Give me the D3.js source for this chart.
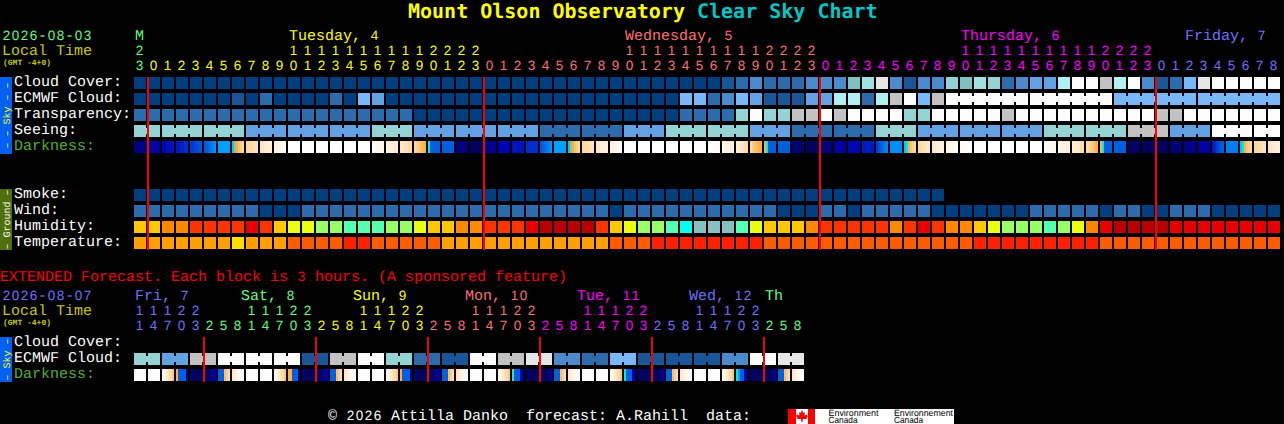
<!DOCTYPE html>
<html>
<head>
<meta charset="utf-8">
<style>
html,body{margin:0;padding:0;background:#000;overflow:hidden}
svg{display:block}
text{font-family:"Liberation Mono",monospace;font-size:15px;white-space:pre;text-rendering:geometricPrecision}
.dg{font-family:"Liberation Sans",sans-serif;font-size:13.5px}
</style>
<script src="https://cdn.jsdelivr.net/npm/d3@7/dist/d3.min.js"></script>
</head>
<body>
<svg id="c" width="1284" height="424"></svg>
<script>
// ---------- labels ----------
const titleLeft = "Mount Olson Observatory ";
const titleRight = "Clear Sky Chart";
const hourDigits = "3012345678901234567890123012345678901234567890123012345678901234567890123012345678".split("");
const hourTens   = "2          11111111112222          11111111112222          11111111112222         ".split("");
const hourDay    = [0].concat(d3.range(24).map(()=>1), d3.range(24).map(()=>2), d3.range(24).map(()=>3), d3.range(9).map(()=>4));
const dayColors  = ["#60ff80","#ffff00","#ff7070","#ff00ff","#7070ff"];
const dayLabels  = [["M",0,0],["Tuesday, 4",11,1],["Wednesday, 5",35,2],["Thursday, 6",59,3],["Friday, 7",75,4]];

const extDigits = "147032581470325814703258147032581470325814703258".split("");
const extTens   = "11122   11122   11122   11122   11122   11122    ".split("");
const extDayIdx = [0,0,0,0,0, 1,1,1,1,1,1,1,1, 2,2,2,2,2,2,2,2, 3,3,3,3,3,3,3,3, 4,4,4,4,4,4,4,4, 5,5,5,5,5,5,5,5, 6,6,6];
const extColors = ["#7070ff","#60ff80","#ffff00","#ff7070","#ff00ff","#7070ff","#60ff80"];
const extDayLabels = [["Fri, 7",0,0],["Sat, 8",7.57,1],["Sun, 9",15.57,2],["Mon, 10",23.57,3],["Tue, 11",31.57,4],["Wed, 12",39.57,5],["Th",45,6]];

const skyRows = ["Cloud Cover:","ECMWF Cloud:","Transparency:","Seeing:","Darkness:"];
const groundRows = ["Smoke:","Wind:","Humidity:","Temperature:"];
const extRows = ["Cloud Cover:","ECMWF Cloud:","Darkness:"];
const midnightCols = [1,25,49,73];
const extMidnightCols = [5,13,21,29,37,45];

// ---------- series (level per block) ----------
const cloudCover = [0,0,0,0,0,0,0,0,0,0,0,0,0,0,0,0,0,0,0,0,0,0,0,0,0,0,0,0,0,0,0,0,0,0,0,0,0,0,0,0,0,0,
  1,2,3,2,2,2,3,3,3,6,8,11,3,1,3,3,7,6,8,7,2,3,4,4,9,12,12,10,9,12,3,1,2,5,11,12,12,12,12,12];
const ecmwfCloud = [0,0,0,0,0,0,0,1,0,2,0,0,0,0,2,0,5,4,0,0,0,0,0,0,0,0,0,0,0,0,0,0,0,0,0,0,0,0,0,
  5,5,2,3,5,4,1,1,1,4,4,9,9,2,9,10,12,5,10,
  12,12,12,12,12,12,12,12,12,12,12,12,5,5,5,5,5,5,5,5,5,5,5,5];
const transparency = [2,2,2,2,2,2,2,2,2,2,2,2,2,2,2,2,2,2,2,2,0,0,0,0,0,0,0,0,0,0,0,0,0,0,0,0,0,0,0,
  2,2,2,2,7,12,7,7,10,10,12,10,12,12,12,12,7,7,12,12,12,12,12,10,
  12,12,12,12,12,12,12,12,12,12,10,10,12,12,12,12,12,12,12];
const seeing = [7,7, 7,7,7, 7,7,7, 4,4,4, 4,4,4, 4,4,4, 7,7,7, 4,4,4, 4,4,4, 4,4,4, 2,2,2, 2,2,2, 4,4,4, 7,7,7, 7,7,7,
  4,4,4, 2,2,2, 2,2,2, 7,7,7, 4,4,4, 4,4,4, 4,4,4, 7,7,7, 7,7,7, 10,10,10, 4,4,4, 12,12,12, 12,12];
const seeingGroups = [0,0, 1,1,1, 2,2,2, 3,3,3, 4,4,4, 5,5,5, 6,6,6, 7,7,7, 8,8,8, 9,9,9, 10,10,10, 11,11,11, 12,12,12, 13,13,13, 14,14,14,
  15,15,15, 16,16,16, 17,17,17, 18,18,18, 19,19,19, 20,20,20, 21,21,21, 22,22,22, 23,23,23, 24,24,24, 25,25,25, 26,26,26, 27,27];
const ecmwfGroups = [-1,-2,-3,-4,-5,-6,-7,-8,-9,-10,-11,-12,-13,-14,-15,-16,-17,-18,-19,-20,-21,-22,-23,-24,-25,-26,-27,-28,-29,-30,-31,-32,-33,-34,-35,-36,-37,-38,-39,-40,-41,-42,-43,-44,-45,-46,-47,-48,-49,-50,-51,-52,-53,-54,-55,-56,-57,-58,
  1,1,1,1,1,1, 2,2,2,2,2,2, 3,3,3,3,3,3, 4,4,4,4,4,4];
const darkness = [
  [.9,1,1.2],[1.5,1.7,2],[2.2,2.4,2.6],[2.8,3,3.2],[3.4,3.6,3.8],[3.9,4,4.2,4.4,4.6,4.8],5,[5.6,6.6,7,7.4,7.7,8],
  [8,8.2,8.5],[8.6,8.9,9.1],[9.2,9.5,9.8],10,10,10,10,10,10,[9.8,9.6,9.4],[9.2,9,8.8],[8.7,8.4,8.1],[8,7.8,7.6,7.4,7.2,7],
  [6,4,4,4,4,4],4,[1,.9,.8],.4,
  1.3,2,2.6,3.2,[3.8,4,4.2,4.4,4.6,4.8],5,[5.5,6.5,7,7.4,7.7,8],[8,8.2,8.5],[8.6,9,9.2],[9.2,9.5,9.8],10,10,10,10,10,10,
  [9.9,9.8,9.6],[9.4,9.2,9],[8.9,8.6,8.2],[8,7.7,7.5,7.3,7.1,7],[7,6,4,4,4,4],4,[.9,.7,.5],.3,
  .9,1.6,2.2,2.8,[3.4,3.7,4,4.2,4.4,4.6],4.7,[5.5,6,7,7.5,7.8,8],[8.1,8.4,8.7],[8.8,9,9.2],[9.3,9.5,9.7],[9.7,9.9,10],10,10,10,10,10,
  [9.9,9.7,9.5],[9.4,9.2,9],[8.9,8.7,8.3],[8.2,8,7.8,7.6,7.3,7],[7,6,4,4,4,4],4,.4,.3,
  .4,.7,1.2,1.7,[2.8,3.1,3.4,3.7,3.9,4],4.5,[5.5,6,7,7.5,7.8,8],[8,8.2,8.5],[8.6,8.9,9.1]];

const smoke = [0,0,0,0,0,0,0,0,0,0,0,0,0,0,0,0,0,0,0,0,0,0,0,0,0,0,0,0,0,0,0,0,0,0,0,0,0,0,0,0,0,0,0,0,0,0,0,0,0,0,0,0,0,0,0,0,0,0];
const wind = [2,2,2,2,2,2,2,2,2,0,0,0,2,2,2,2,2,2,2,2,2,2,2,2,2,2,2,2,2,2,2,2,2,2,0,2,2,2,2,2,2,2,2,2,2,2,0,0,0,2,2,0,
  2,2,2,2,2,0,0,0,0,0,0,0,2,2,2,2,2,0,2,2,0,0,2,2,2,0,0,0,0,0];
const humidity = [4,4,3,3,2,2,2,2,1,2,4,5,5,6,6,7,7,7,6,6,5,4,4,3,3,2,2,2,1,0,0,0,0,2,4,5,6,6,7,8,9,9,9,7,5,4,4,4,3,2,2,2,
  2,2,3,2,1,2,3,3,4,5,6,6,6,7,6,5,3,1,0,0,0,0,1,1,1,1,1,1,1,1];
const temperature = [1,1,1,1,1,1,1,0,1,1,1,2,2,2,2,3,3,2,2,2,2,2,1,1,1,1,1,1,1,1,1,1,1,1,2,2,2,3,3,3,3,3,3,3,3,2,2,2,2,2,2,2,
  2,2,2,2,2,2,2,2,3,3,3,3,3,3,3,3,3,2,2,2,2,2,2,2,2,2,2,2,2,2];

const extEcmwf = [7,4,10,12,12,12,1,10,12,7,2,1,12,10,11,3,2,5,1,1,1,3,12,11];
const extDarkness = [
  10,10,[9.6,9.2,8.8,8.4,8,7.6],[7,4,4,4,4,1],.4,[.4,.4,.4,1,1.6,2],[4,4,4,7.3,7.8,8.2],[8.6,9,9.3,9.6,9.9,10],
  10,10,[9.6,9.2,8.8,8.4,8,7.6],[7,7,4,4,4,1],.4,[.4,.4,.4,1,1.6,2],[4,4,4,7.3,7.8,8.2],[8.6,9,9.3,9.6,9.9,10],
  10,10,[9.6,9.2,8.8,8.4,8,7.6],[7,4,4,4,4,1],.4,[.4,.4,.4,1,1.6,2],[4,4,4,7.3,7.8,8.2],[8.4,8.8,9.2,9.5,9.8,10],
  10,10,[9.6,9.2,8.8,8.4,8,7.6],[6.3,4,4,4,2,1],.4,[.4,.4,.4,.4,.8,2],[4,4,4,7.3,7.8,8.2],[8.6,9,9.3,9.6,9.9,10],
  10,10,[9.6,9.2,8.8,8.4,8,7.6],[6,4,4,4,2,1],.4,[.4,.4,.4,.4,.8,2],[4,4,4,7.3,7.8,8.2],[8.6,9,9.3,9.6,9.9,10],
  10,10,[9.6,9.2,8.8,8.4,8,7.6],[6,5,4,4,2,1],.4,[.4,.4,.4,.4,.8,2],[4,4,4,7.3,7.8,8.2],[8.6,9,9.3,9.6,9.9,10]];

// ---------- colour scales ----------
const cloudPalette = ["#003f7f","#175797","#2c6cac","#4b8bcb","#62a2e2","#78b8f8","#80c0c0","#93d3d3","#a0e0e0","#b0f0f0","#c2c2c2","#e6e6e6","#fcfcfc"];
const cloudColor = d3.scaleOrdinal().domain(d3.range(cloudPalette.length)).range(cloudPalette);
const humidityPalette = ["#b80000","#e80000","#ff3300","#ff8800","#ffc800","#eaff10","#99ff66","#55ffb0","#00ffee","#88c0c0"];
const humidityColor = d3.scaleOrdinal().domain(d3.range(10)).range(humidityPalette);
const tempPalette = ["#ffdc00","#ffa000","#ff5c00","#ff2000"];
const tempColor = d3.scaleOrdinal().domain(d3.range(4)).range(tempPalette);
const darkColor = d3.scaleLinear()
  .domain([0,1,2,3,4,5,6,7,8,9,10])
  .range(["#000050","#000080","#0000b0","#0020c8","#0060e0","#00a0ff","#00e8e8","#ffb040","#ffd8a0","#ffeeda","#ffffff"]);

// ---------- layout scales ----------
const svg = d3.select("#c");
const x = d3.scaleBand().domain(d3.range(82)).range([134,1280]).paddingInner(1/7);
const xExt = d3.scaleBand().domain(d3.range(48)).range([134,804]).paddingInner(1/7);
const ySky = d3.scaleBand().domain(skyRows).range([77,153]).paddingInner(.25);
const yGround = d3.scaleBand().domain(groundRows).range([189,249]).paddingInner(.25);
const yExt = d3.scaleBand().domain(extRows).range([337,381]).paddingInner(.25);

// mono text on a 9px grid; digit runs are set in a face with a plain zero
function txt(s,px,py,fill){
  const t = svg.append("text").attr("y",py).attr("fill",fill);
  const re = /\d+|\D+/g; let m;
  while((m = re.exec(s))){
    const run = m[0], isDigit = /\d/.test(run[0]);
    const xs = Array.from(run,(c,k)=>px+9*(m.index+k)+(isDigit?.7:0)).join(" ");
    const sp = t.append("tspan").attr("x",xs).text(run);
    if(isDigit) sp.attr("class","dg");
  }
  return t;
}
function small(s,px,py){
  svg.append("text").attr("x",px).attr("y",py).attr("fill","#c8c800")
    .style("font-size","8px").style("font-weight","bold").text(s);
}
function blocks(data,xs,ys,row,color,groups){
  const g = svg.append("g").attr("shape-rendering","crispEdges");
  g.selectAll("rect.b").data(data).join("rect").attr("class","b")
    .attr("x",(d,i)=>xs(i)).attr("y",ys(row)).attr("width",xs.bandwidth()).attr("height",ys.bandwidth())
    .attr("fill",d=>color(d));
  if(groups){
    const links = d3.range(data.length-1).filter(i=>groups[i]===groups[i+1]);
    g.selectAll("rect.l").data(links).join("rect").attr("class","l")
      .attr("x",i=>xs(i)+xs.bandwidth()).attr("y",ys(row)+3).attr("width",xs.step()-xs.bandwidth()).attr("height",ys.bandwidth()-6)
      .attr("fill",i=>color(data[i]));
  }
}
function darkBlocks(data,xs,ys,row){
  const g = svg.append("g").attr("shape-rendering","crispEdges");
  data.forEach((d,i)=>{
    const samples = Array.isArray(d)?d:[d];
    const sub = d3.scaleBand().domain(d3.range(samples.length)).range([xs(i),xs(i)+xs.bandwidth()]);
    g.selectAll(null).data(samples).join("rect")
      .attr("x",(v,j)=>sub(j)).attr("y",ys(row)).attr("width",sub.bandwidth()).attr("height",ys.bandwidth())
      .attr("fill",v=>darkColor(v));
  });
}
function rowLabels(rows,ys){
  rows.forEach(r=>txt(r,14,ys(r)+9,r==="Darkness:"?"#50b030":"#ffffff"));
}
function sideBar(y0,y1,fill,textFill,label){
  svg.append("rect").attr("x",0).attr("y",y0).attr("width",12).attr("height",y1-y0).attr("fill",fill);
  const c=(y0+y1)/2;
  svg.append("text").attr("transform",`translate(9.5,${c}) rotate(-90)`).attr("text-anchor","middle")
    .attr("fill",textFill).style("font-size","10px").text(label);
}

// ---------- title ----------
const tt = svg.append("text").attr("x",408).attr("y",18).style("font-size","20px").style("font-weight","bold")
  .style("font-family","'DejaVu Sans Mono'");
tt.append("tspan").attr("fill","#ffff00").text(titleLeft);
tt.append("tspan").attr("fill","#00c8c8").text(titleRight);

// ---------- top header ----------
txt("2026-08-03",2,40,"#60ff80");
txt("Local Time",2,55,"#c8c800");
small("(GMT -4+0)",3,65);
dayLabels.forEach(d=>txt(d[0],x(d[1])+1,40,dayColors[d[2]]));
svg.append("g").selectAll("text").data(hourTens).join("text").attr("class","dg")
  .attr("x",(d,i)=>x(i)+1.7).attr("y",55).attr("fill",(d,i)=>dayColors[hourDay[i]]).text(d=>d);
svg.append("g").selectAll("text").data(hourDigits).join("text").attr("class","dg")
  .attr("x",(d,i)=>x(i)+1.7).attr("y",70).attr("fill",(d,i)=>dayColors[hourDay[i]]).text(d=>d);

// ---------- sky + ground ----------
sideBar(77,154,"#0060f0","#ffff00","\u2013 \u2013 Sky \u2013 \u2013");
sideBar(189,250,"#506e0a","#ffffff","\u2013 Ground \u2013");
rowLabels(skyRows,ySky); rowLabels(groundRows,yGround);
blocks(cloudCover,x,ySky,"Cloud Cover:",cloudColor);
blocks(ecmwfCloud,x,ySky,"ECMWF Cloud:",cloudColor,ecmwfGroups);
blocks(transparency,x,ySky,"Transparency:",cloudColor);
blocks(seeing,x,ySky,"Seeing:",cloudColor,seeingGroups);
darkBlocks(darkness,x,ySky,"Darkness:");
blocks(smoke,x,yGround,"Smoke:",cloudColor);
blocks(wind,x,yGround,"Wind:",cloudColor);
blocks(humidity,x,yGround,"Humidity:",humidityColor);
blocks(temperature,x,yGround,"Temperature:",tempColor);
svg.append("g").attr("shape-rendering","crispEdges").selectAll("rect").data(midnightCols).join("rect")
  .attr("x",c=>x(c)-1).attr("y",77).attr("width",2).attr("height",173).attr("fill","#ff0000");

// ---------- extended ----------
txt("EXTENDED Forecast. Each block is 3 hours. (A sponsored feature)",0,280.5,"#ff0000");
txt("2026-08-07",2,300,"#7070ff");
txt("Local Time",2,315,"#c8c800");
small("(GMT -4+0)",3,325);
extDayLabels.forEach(d=>txt(d[0],xExt(0)+1+d[1]*14,300,extColors[d[2]]));
svg.append("g").selectAll("text").data(extTens).join("text").attr("class","dg")
  .attr("x",(d,i)=>xExt(i)+1.7).attr("y",315).attr("fill",(d,i)=>extColors[extDayIdx[i]]).text(d=>d);
svg.append("g").selectAll("text").data(extDigits).join("text").attr("class","dg")
  .attr("x",(d,i)=>xExt(i)+1.7).attr("y",330).attr("fill",(d,i)=>extColors[extDayIdx[i]]).text(d=>d);
sideBar(337,382,"#0060f0","#ffff00","\u2013 Sky \u2013");
rowLabels(extRows,yExt);
const xPair = d3.scaleBand().domain(d3.range(24)).range([134,804]).paddingInner(1/14);
const gExt = svg.append("g").attr("shape-rendering","crispEdges");
gExt.selectAll("rect.b").data(extEcmwf.flatMap(v=>[v,v])).join("rect").attr("class","b")
  .attr("x",(d,i)=>xExt(i)).attr("y",yExt("ECMWF Cloud:")).attr("width",xExt.bandwidth()).attr("height",yExt.bandwidth())
  .attr("fill",d=>cloudColor(d));
gExt.selectAll("rect.l").data(extEcmwf).join("rect").attr("class","l")
  .attr("x",(d,i)=>xPair(i)+12).attr("y",yExt("ECMWF Cloud:")+3).attr("width",2).attr("height",6)
  .attr("fill",d=>cloudColor(d));
darkBlocks(extDarkness,xExt,yExt,"Darkness:");
svg.append("g").attr("shape-rendering","crispEdges").selectAll("rect").data(extMidnightCols).join("rect")
  .attr("x",c=>xExt(c)-1).attr("y",337).attr("width",2).attr("height",45).attr("fill","#ff0000");

// ---------- footer ----------
txt("\u00a9 2026 Attilla Danko  forecast: A.Rahill  data:",328,420,"#ffffff");
const logo = svg.append("g");
logo.append("rect").attr("x",788).attr("y",409).attr("width",166).attr("height",15).attr("fill","#ffffff");
logo.append("rect").attr("x",788).attr("y",409).attr("width",8).attr("height",15).attr("fill","#ff0000");
logo.append("rect").attr("x",808).attr("y",409).attr("width",7).attr("height",15).attr("fill","#ff0000");
logo.append("path").attr("fill","#ff0000")
  .attr("d","M802 410 L803.5 413 L805 412 L804.5 415.5 L807 414.5 L807.5 416 L808 416 L806.5 418 L807 419 L803 419 L802.5 422 L801.5 422 L801 419 L797 419 L797.5 418 L796 416 L797 414.5 L799.5 415.5 L799 412 L800.5 413 Z");
[["Environment",828.5,50],["Canada",828.5,29],["Environnement",894,59],["Canada",894,29]].forEach((d,i)=>{
  svg.append("text").attr("x",d[1]).attr("y",i%2===0?415.5:423).attr("fill","#000")
    .attr("textLength",d[2]).attr("lengthAdjust","spacingAndGlyphs")
    .style("font-family","'Liberation Sans'").style("font-size","9px").text(d[0]);
});
</script>
</body>
</html>
